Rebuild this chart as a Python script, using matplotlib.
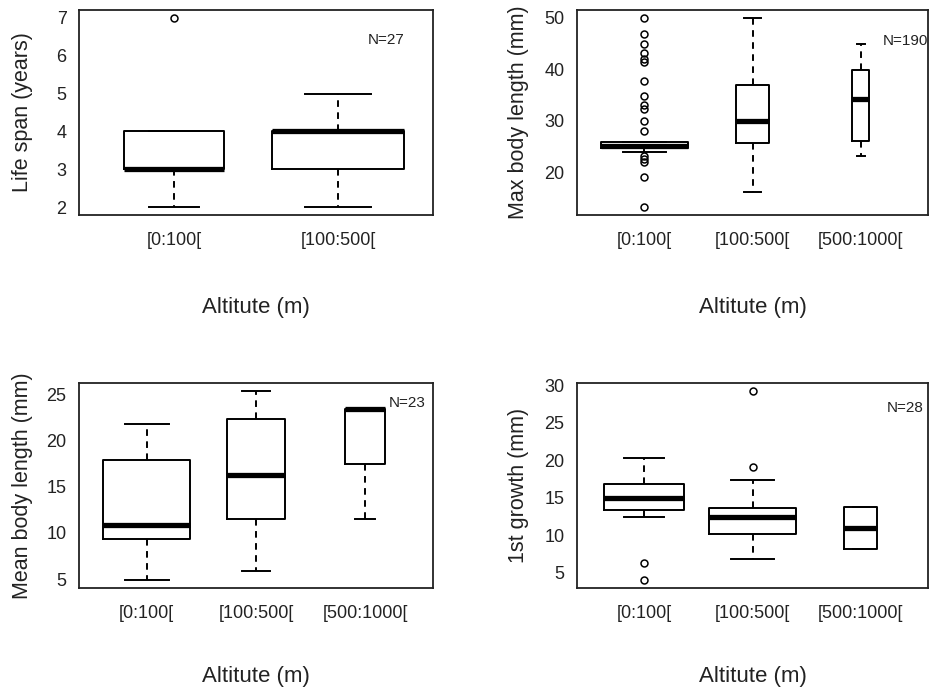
import numpy as np
import matplotlib
matplotlib.use("Agg")
import matplotlib.pyplot as plt

plt.rcParams["font.family"] = ["Liberation Sans", "DejaVu Sans"]

# ---- data -------------------------------------------------------------
altitude_2 = ["[0:100[", "[100:500["]
altitude_3 = ["[0:100[", "[100:500[", "[500:1000["]

# Life span (years)
life_n = [10, 17]
life_whislo = [2, 2]
life_q1 = [3, 3]
life_med = [3, 4]
life_q3 = [4, 4]
life_whishi = [4, 5]
life_fliers = [[7], []]

# Max body length (mm)
maxlen_n = [160, 24, 6]
maxlen_whislo = [23.9, 16.2, 23.2]
maxlen_q1 = [24.8, 25.6, 26.0]
maxlen_med = [25.1, 30.0, 34.2]
maxlen_q3 = [25.9, 36.9, 39.8]
maxlen_whishi = [25.9, 50.0, 44.8]
maxlen_fliers = [
    [50.0, 46.8, 44.9, 43.1, 41.9, 41.4, 37.8, 34.8, 33.0, 32.3, 30.0, 28.1,
     23.2, 22.6, 22.0, 19.0, 13.2],
    [],
    [],
]

# Mean body length (mm)
meanlen_n = [14, 6, 3]
meanlen_whislo = [4.85, 5.9, 11.5]
meanlen_q1 = [9.35, 11.5, 17.45]
meanlen_med = [10.8, 16.3, 23.4]
meanlen_q3 = [17.9, 22.3, 23.4]
meanlen_whishi = [21.8, 25.4, 23.4]
meanlen_fliers = [[], [], []]

# 1st growth (mm)
growth_n = [12, 14, 2]
growth_whislo = [12.4, 6.8, 8.2]
growth_q1 = [13.4, 10.2, 8.2]
growth_med = [15.0, 12.4, 11.0]
growth_q3 = [16.9, 13.6, 13.8]
growth_whishi = [20.3, 17.4, 13.8]
growth_fliers = [[6.3, 4.0], [29.3, 19.1], []]

# ---- drawing ------------------------------------------------------------
LW = 1.4
W, H = 9.3, 6.95
fig = plt.figure(figsize=(W, H), dpi=100)


def px_axes(x0, y0, x1, y1):
    return fig.add_axes([x0 / 930, 1 - y1 / 695, (x1 - x0) / 930, (y1 - y0) / 695])


def panel(ax, cats, n, wlo, q1, med, q3, whi, fliers, yticks, ylabel,
          ntext, npos, xlab_y, ylab_x):
    stats = []
    for i in range(len(cats)):
        stats.append(dict(whislo=wlo[i], q1=q1[i], med=med[i], q3=q3[i],
                          whishi=whi[i], fliers=fliers[i], label=cats[i]))
    sq = np.sqrt(np.asarray(n, float))
    widths = 0.8 * sq / sq.max()
    pos = np.arange(1, len(cats) + 1)
    ax.bxp(stats, positions=pos, widths=widths, capwidths=widths * 0.5,
           boxprops=dict(color="black", linewidth=LW),
           medianprops=dict(color="black", linewidth=3.8, solid_capstyle="butt"),
           whiskerprops=dict(color="black", linewidth=LW, linestyle=(0, (3.4, 2.8))),
           capprops=dict(color="black", linewidth=LW),
           flierprops=dict(marker="o", markersize=5.0, markerfacecolor="none",
                           markeredgecolor="black", markeredgewidth=1.1))
    # axis ranges padded by 4% as in the classic boxplot style
    allv = list(wlo) + list(whi) + [v for f in fliers for v in f]
    lo, hi = min(allv), max(allv)
    pad = 0.04 * (hi - lo)
    ax.set_ylim(lo - pad, hi + pad)
    k = len(cats)
    ax.set_xlim(0.5 - 0.04 * k, k + 0.5 + 0.04 * k)
    ax.set_yticks(yticks)
    ax.set_yticklabels([str(t) for t in yticks])
    ax.set_xticks(pos)
    ax.set_xticklabels(cats)
    ax.tick_params(axis="y", length=0, pad=9, labelsize=13, labelcolor="#222222")
    ax.tick_params(axis="x", length=0, pad=12, labelsize=13, labelcolor="#222222")
    for s in ax.spines.values():
        s.set_linewidth(1.3)
        s.set_color("#222222")
    ax.set_xlabel("Altitute (m)", fontsize=16, color="#222222")
    ax.xaxis.label.set_va("center")
    ax.xaxis.set_label_coords(0.5, xlab_y)
    ax.set_ylabel(ylabel, fontsize=15.5, color="#222222")
    ax.yaxis.label.set_va("center")
    ax.yaxis.set_label_coords(ylab_x, 0.5)
    ax.text(npos[0], npos[1], ntext, transform=ax.transAxes, ha="center",
            va="center", fontsize=11, color="#222222")


ax1 = px_axes(79, 10, 433, 215)
panel(ax1, altitude_2, life_n, life_whislo, life_q1, life_med, life_q3,
      life_whishi, life_fliers, [2, 3, 4, 5, 6, 7], "Life span (years)",
      "N=27", (0.867, 0.854), -0.449, -0.161)

ax2 = px_axes(577, 10, 928, 215)
panel(ax2, altitude_3, maxlen_n, maxlen_whislo, maxlen_q1, maxlen_med, maxlen_q3,
      maxlen_whishi, maxlen_fliers, [20, 30, 40, 50], "Max body length (mm)",
      "N=190", (0.935, 0.849), -0.449, -0.168)

ax3 = px_axes(79, 383, 433, 588)
panel(ax3, altitude_3, meanlen_n, meanlen_whislo, meanlen_q1, meanlen_med,
      meanlen_q3, meanlen_whishi, meanlen_fliers, [5, 10, 15, 20, 25],
      "Mean body length (mm)", "N=23", (0.927, 0.902), -0.434, -0.161)

ax4 = px_axes(577, 383, 928, 588)
panel(ax4, altitude_3, growth_n, growth_whislo, growth_q1, growth_med, growth_q3,
      growth_whishi, growth_fliers, [5, 10, 15, 20, 25, 30], "1st growth (mm)",
      "N=28", (0.935, 0.878), -0.434, -0.168)

fig.savefig("out.png", dpi=100)
